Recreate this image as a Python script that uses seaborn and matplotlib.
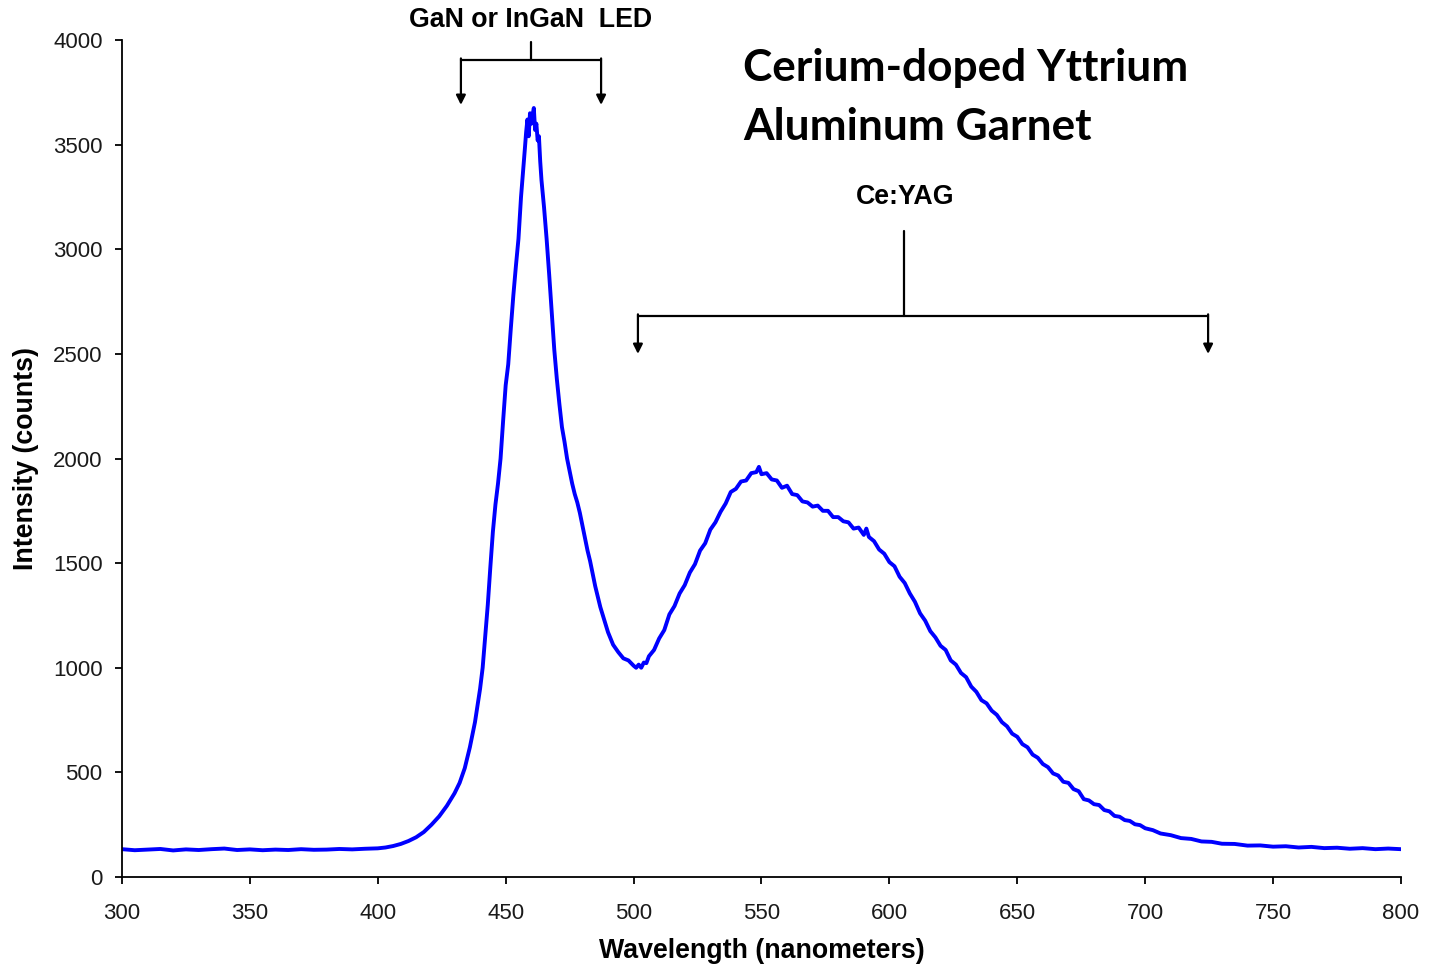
import pandas as pd
import seaborn as sns
import matplotlib.pyplot as plt

# wavelength (nm) and intensity (counts)
wavelength = [300, 305, 310, 315, 320, 325, 330, 335, 340, 345, 350, 355, 360, 365, 370, 375,
              380, 385, 390, 395, 400, 403, 406, 409, 412, 415, 418, 421, 424, 427, 430, 432,
              434, 436, 438, 440, 441, 442, 443, 444, 445, 446, 447, 448, 449, 450, 451, 452,
              453, 454, 455, 456, 457, 457.5, 458, 458.5, 459, 459.5, 460, 460.5, 461, 461.5,
              462, 462.5, 463, 463.5, 464, 465, 466, 467, 468, 469, 470, 471, 472, 473, 474,
              475, 476, 477, 478, 479, 480, 481, 482, 483, 484, 485, 486, 487, 488, 489, 490,
              492, 494, 496, 498, 500, 501, 502, 503, 504, 505, 506, 508, 510, 512, 514, 516,
              518, 520, 522, 524, 526, 528, 530, 532, 534, 536, 538, 540, 542, 544, 546, 548,
              549, 550, 552, 554, 556, 558, 560, 562, 564, 566, 568, 570, 572, 574, 576, 578,
              580, 582, 584, 586, 588, 590, 591, 592, 594, 596, 598, 600, 602, 604, 606, 608,
              610, 612, 614, 616, 618, 620, 622, 624, 626, 628, 630, 632, 634, 636, 638, 640,
              642, 644, 646, 648, 650, 652, 654, 656, 658, 660, 662, 664, 666, 668, 670, 672,
              674, 676, 678, 680, 682, 684, 686, 688, 690, 692, 694, 696, 698, 700, 703, 706,
              710, 714, 718, 722, 726, 730, 735, 740, 745, 750, 755, 760, 765, 770, 775, 780,
              785, 790, 795, 800]
intensity = [133, 128, 131, 134, 127, 132, 129, 133, 136, 129, 132, 128, 131, 129, 133, 130,
             131, 134, 132, 135, 137, 141, 148, 158, 172, 190, 215, 250, 290, 340, 400, 450,
             520, 620, 740, 900, 1000, 1150, 1300, 1480, 1650, 1780, 1880, 2000, 2180, 2350, 2450, 2620,
             2780, 2920, 3050, 3250, 3400, 3480, 3560, 3620, 3540, 3650, 3600, 3640, 3675, 3570,
             3600, 3520, 3540, 3420, 3330, 3200, 3050, 2880, 2700, 2520, 2380, 2260, 2150, 2080, 2000,
             1940, 1880, 1830, 1790, 1740, 1680, 1620, 1560, 1510, 1450, 1390, 1340, 1290, 1250, 1210, 1170,
             1110, 1075, 1045, 1035, 1010, 1000, 1015, 1000, 1025, 1022, 1055, 1085, 1140, 1180, 1255, 1295,
             1355, 1395, 1455, 1495, 1560, 1595, 1660, 1695, 1745, 1785, 1840, 1855, 1890, 1895, 1930, 1935,
             1960, 1925, 1930, 1900, 1895, 1860, 1870, 1830, 1825, 1795, 1790, 1770, 1775, 1750, 1750, 1720,
             1720, 1700, 1695, 1665, 1670, 1635, 1665, 1625, 1605, 1565, 1545, 1505, 1485, 1435, 1405, 1355,
             1315, 1260, 1225, 1175, 1145, 1105, 1085, 1035, 1015, 975, 955, 910, 885, 845, 830, 795,
             775, 740, 720, 685, 670, 635, 620, 585, 570, 540, 525, 495, 485, 455, 450, 420,
             410, 372, 366, 348, 344, 320, 314, 292, 288, 272, 268, 252, 248, 233, 224, 208,
             200, 186, 182, 170, 168, 159, 158, 150, 151, 145, 147, 141, 144, 138, 140, 135,
             138, 133, 136, 133]

spectrum = pd.DataFrame({'wavelength': wavelength, 'intensity': intensity})

# where the bracket arrows point (nm)
led_tips = [432.5, 487.3]
yag_tips = [501.7, 724.6]

sns.set_style('ticks')
plt.rcParams['font.family'] = ['Liberation Sans', 'DejaVu Sans']
plt.rcParams['text.color'] = 'black'
plt.rcParams['axes.labelcolor'] = 'black'

fig = plt.figure(figsize=(14.3, 9.71), dpi=100)
ax = fig.add_axes([0.0853, 0.0968, 0.8944, 0.862])

sns.lineplot(data=spectrum, x='wavelength', y='intensity', color='#0000ff',
             linewidth=2.8, estimator=None, ax=ax)

ax.set_xlim(300, 800)
ax.set_ylim(0, 4000)
ax.set_xticks(range(300, 801, 50))
ax.set_yticks(range(0, 4001, 500))
sns.despine(ax=ax)
for side in ['left', 'bottom']:
    ax.spines[side].set_linewidth(1.3)
    ax.spines[side].set_color('black')
ax.tick_params(direction='out', length=5, width=1.3, color='black',
               labelsize=16, labelcolor='#1a1a1a')
ax.tick_params(axis='x', pad=14)
ax.tick_params(axis='y', pad=9)

ax.set_xlabel('Wavelength (nanometers)', fontsize=19.3, fontweight='bold', labelpad=10)
ax.set_ylabel('Intensity (counts)', fontsize=19.3, fontweight='bold', labelpad=10)


# draw a bracket with a central stem and two downward arrows
def bracket(tips, stem_x, stem_top, bar_y, tip_y):
    ax.plot([stem_x, stem_x], [stem_top, bar_y], color='black', lw=1.6, clip_on=False)
    ax.plot([tips[0], tips[1]], [bar_y, bar_y], color='black', lw=1.6, clip_on=False)
    for tx in tips:
        ax.annotate('', xy=(tx, tip_y), xytext=(tx, bar_y + 8),
                    arrowprops=dict(arrowstyle='-|>', color='black', lw=1.6,
                                    mutation_scale=14, shrinkA=0, shrinkB=0),
                    annotation_clip=False)


bracket(led_tips, 459.9, 3990, 3904, 3690)
bracket(yag_tips, 605.7, 3087, 2681, 2500)

ax.text(459.7, 4095, 'GaN or InGaN  LED', ha='center', va='center',
        fontsize=19.3, fontweight='bold')
ax.text(606, 3250, 'Ce:YAG', ha='center', va='center', fontsize=19.3, fontweight='bold')

ax.text(542.8, 3865, 'Cerium-doped Yttrium', ha='left', va='center',
        fontsize=31.8, fontweight='bold', family=['Lato', 'DejaVu Sans'])
ax.text(542.8, 3585, 'Aluminum Garnet', ha='left', va='center',
        fontsize=31.8, fontweight='bold', family=['Lato', 'DejaVu Sans'])

fig.savefig('out.png', dpi=100)
